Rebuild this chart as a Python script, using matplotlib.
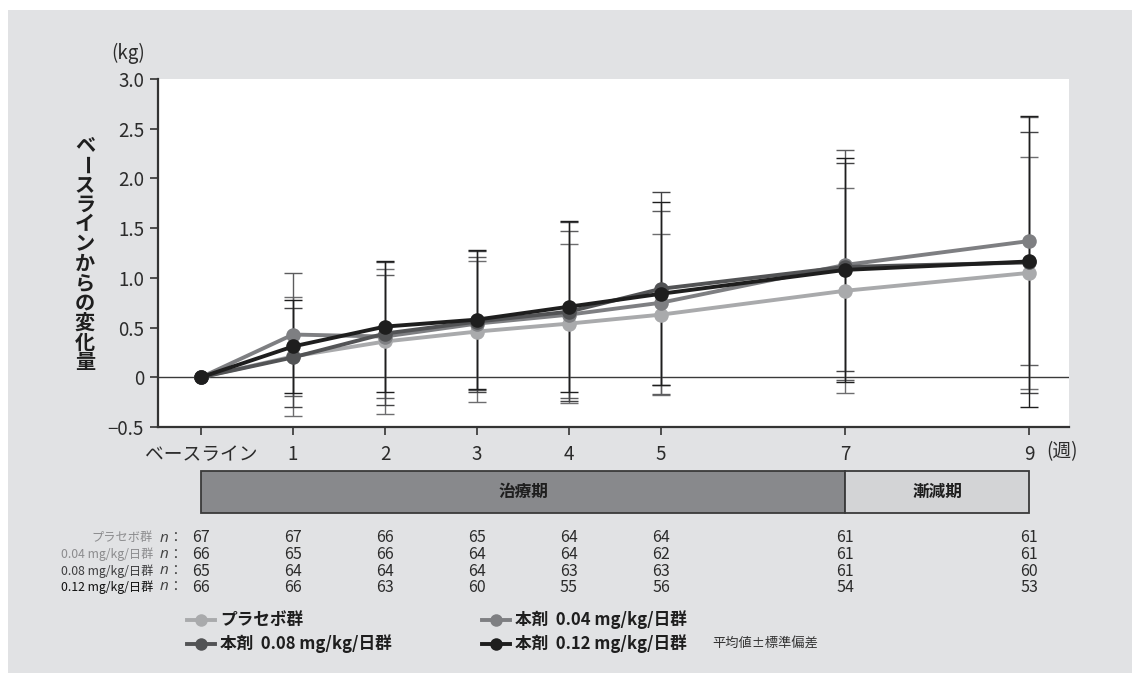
import matplotlib
matplotlib.use("Agg")
import matplotlib.pyplot as plt
from matplotlib.patches import Rectangle
from matplotlib.lines import Line2D
from matplotlib.transforms import blended_transform_factory

plt.rcParams['font.family'] = ['Noto Sans CJK JP', 'DejaVu Sans']

# ---- data -------------------------------------------------------------
weeks = [0, 1, 2, 3, 4, 5, 7, 9]
week_labels = ['ベースライン', '1', '2', '3', '4', '5', '7', '9']

placebo_mean = [0, 0.21, 0.36, 0.46, 0.54, 0.63, 0.87, 1.05]
placebo_sd = [0, 0.60, 0.73, 0.71, 0.80, 0.81, 1.03, 1.17]
d004_mean = [0, 0.43, 0.41, 0.54, 0.63, 0.75, 1.13, 1.37]
d004_sd = [0, 0.62, 0.62, 0.67, 0.84, 0.92, 1.16, 1.25]
d008_mean = [0, 0.20, 0.44, 0.56, 0.66, 0.89, 1.11, 1.155]
d008_sd = [0, 0.50, 0.72, 0.71, 0.90, 0.97, 1.05, 1.31]
d012_mean = [0, 0.31, 0.51, 0.58, 0.71, 0.84, 1.08, 1.165]
d012_sd = [0, 0.47, 0.66, 0.70, 0.86, 0.92, 1.13, 1.46]

placebo_n = [67, 67, 66, 65, 64, 64, 61, 61]
d004_n = [66, 65, 66, 64, 64, 62, 61, 61]
d008_n = [65, 64, 64, 64, 63, 63, 61, 60]
d012_n = [66, 66, 63, 60, 55, 56, 54, 53]

row_labels = ['プラセボ群', '0.04 mg/kg/日群', '0.08 mg/kg/日群', '0.12 mg/kg/日群']
legend_labels = ['プラセボ群', '本剤  0.04 mg/kg/日群', '本剤  0.08 mg/kg/日群', '本剤  0.12 mg/kg/日群']
yticks = [-0.5, 0, 0.5, 1.0, 1.5, 2.0, 2.5, 3.0]
ytick_labels = ['−0.5', '0', '0.5', '1.0', '1.5', '2.0', '2.5', '3.0']
periods = [('治療期', 0, 7), ('漸減期', 7, 9)]

# ---- styling ----------------------------------------------------------
W, H = 1132, 675
line_colors = ['#a9aaac', '#7e7f82', '#525355', '#1e1e1e']
err_colors = ['#6d6d6f', '#5c5c5e', '#434345', '#1e1e1e']
label_colors = ['#8c8c8e', '#8c8c8e', '#3e3e40', '#111111']
text_dark = '#2b2b2b'


def fx(px):
    return px / W


def fy(py):
    return 1 - py / H


fig = plt.figure(figsize=(W / 100, H / 100), dpi=100, facecolor='white')

# grey panel behind everything
fig.add_artist(Rectangle((fx(8), fy(673)), fx(1132) - fx(8), fy(10) - fy(673),
                         transform=fig.transFigure, facecolor='#e1e2e4',
                         edgecolor='none', zorder=0))

ax_l, ax_r, ax_t, ax_b = 158, 1069, 79, 427
ax = fig.add_axes([fx(ax_l), fy(ax_b), fx(ax_r) - fx(ax_l), fy(ax_t) - fy(ax_b)])
ax.set_facecolor('white')
px_per_week = 92.0
ax.set_xlim((ax_l - 201) / px_per_week, (ax_r - 201) / px_per_week)
ax.set_ylim(-0.5, 3.0)

ax.axhline(0, color='#3a3a3a', lw=1.0, zorder=1)

means = [placebo_mean, d004_mean, d008_mean, d012_mean]
sds = [placebo_sd, d004_sd, d008_sd, d012_sd]
for i, (m, s) in enumerate(zip(means, sds)):
    ax.errorbar(weeks[1:], m[1:], yerr=s[1:], fmt='none', ecolor=err_colors[i],
                elinewidth=1.0, capsize=6.5, capthick=1.0, zorder=2 + i * 0.1)
for i, m in enumerate(means):
    ax.plot(weeks, m, color=line_colors[i], lw=2.8, marker='o', ms=10.5,
            markeredgewidth=0, zorder=5 + i, clip_on=False)

for side in ['top', 'right']:
    ax.spines[side].set_visible(False)
for side in ['left', 'bottom']:
    ax.spines[side].set_color('#333333')
    ax.spines[side].set_linewidth(1.6)

ax.set_xticks(weeks)
ax.set_xticklabels(week_labels)
ax.set_yticks(yticks)
ax.set_yticklabels(ytick_labels)
ax.tick_params(axis='both', colors='#333333', labelcolor=text_dark, labelsize=13.5,
               length=6, width=1.2, direction='out')
ax.tick_params(axis='x', pad=6)
ax.tick_params(axis='y', pad=4)

# axis units
fig.text(fx(128), fy(53), '(kg)', ha='center', va='center', fontsize=13.5, color=text_dark)
ax.text(9 + 17 / px_per_week, fy(452), '(週)', ha='left', va='center', fontsize=13.5,
        color=text_dark, transform=blended_transform_factory(ax.transData, fig.transFigure))

# vertical (tategaki) y-axis title
ylab = 'ベースラインからの変化量'
y0, y1 = 145, 362
step = (y1 - y0) / (len(ylab) - 1)
for k, ch in enumerate(ylab):
    rot = -90 if ch == 'ー' else 0
    fig.text(fx(85), fy(y0 + k * step), ch, ha='center', va='center', fontsize=14.5,
             fontweight='bold', color='#1e1e1e', rotation=rot)

# period bars under the x axis
bt = blended_transform_factory(ax.transData, fig.transFigure)
period_colors = ['#88898c', '#d3d4d6']
for (name, a, b), col in zip(periods, period_colors):
    fig.add_artist(Rectangle((a, fy(513)), b - a, fy(471) - fy(513), transform=bt,
                             facecolor=col, edgecolor='#3a3a3a', lw=1.3, zorder=3))
    fig.text((a + b) / 2, fy(492), name, transform=bt, ha='center', va='center',
             fontsize=12, fontweight='bold', color='#1e1e1e', zorder=4)

# number-at-risk table
counts = [placebo_n, d004_n, d008_n, d012_n]
row_y = [538, 554.5, 571, 587]
for r, (lab, ns) in enumerate(zip(row_labels, counts)):
    yy = fy(row_y[r])
    fig.text(fx(153), yy, lab, ha='right', va='center', fontsize=8.8, color=label_colors[r])
    fig.text(fx(160), yy, 'n', ha='left', va='center', fontsize=11, style='italic',
             family=['Open Sans', 'DejaVu Sans'], color='#444444')
    fig.text(fx(168), yy, '：', ha='left', va='center', fontsize=10, color='#444444')
    for w, n in zip(weeks, ns):
        fig.text(w, yy, str(n), transform=bt, ha='center', va='center', fontsize=11.5,
                 color=text_dark)

# legend
leg_pos = [(187, 620), (482, 620), (187, 644), (482, 644)]
for i, (lab, (lx, ly)) in enumerate(zip(legend_labels, leg_pos)):
    fig.add_artist(Line2D([fx(lx), fx(lx + 28)], [fy(ly), fy(ly)], transform=fig.transFigure,
                          color=line_colors[i], lw=2.8, zorder=5))
    fig.add_artist(Line2D([fx(lx + 14)], [fy(ly)], transform=fig.transFigure, marker='o',
                          ms=9, color=line_colors[i], markeredgewidth=0, zorder=6))
    fig.text(fx(lx + 33), fy(ly), lab, ha='left', va='center', fontsize=12,
             fontweight='bold', color='#1e1e1e')
fig.text(fx(712), fy(644), '平均値±標準偏差', ha='left', va='center', fontsize=9.5,
         color='#333333')

fig.savefig('out.png', dpi=100, facecolor='white')
